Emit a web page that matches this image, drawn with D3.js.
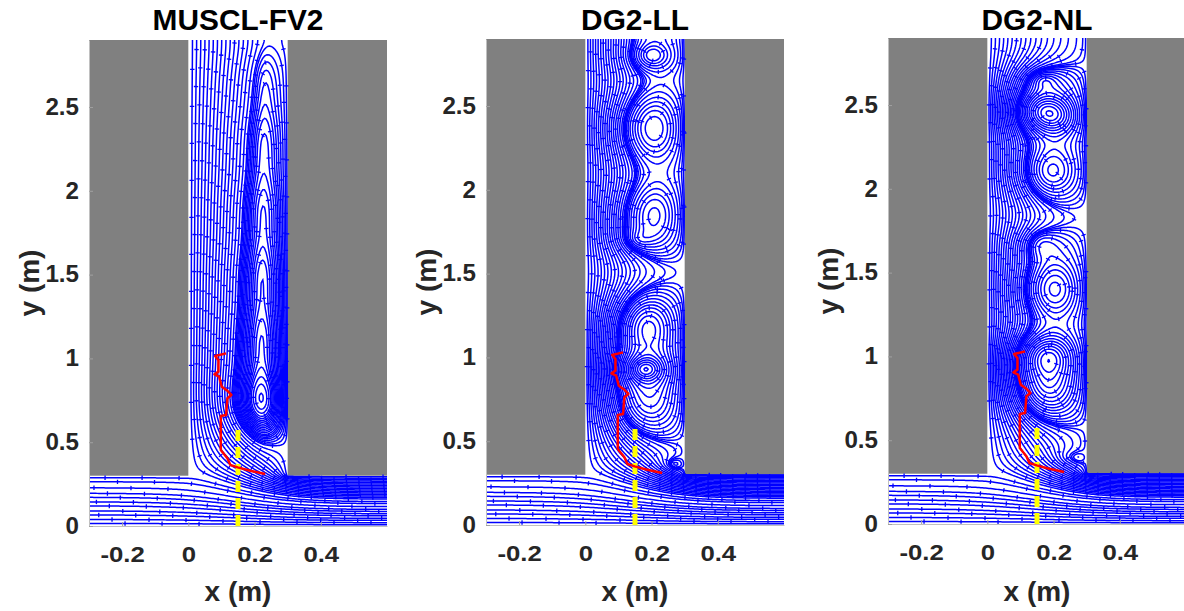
<!DOCTYPE html>
<html>
<head>
<meta charset="utf-8">
<script src="https://cdn.jsdelivr.net/npm/d3@7"></script>
<style>
  body { margin: 0; background: #fff; }
  text { font-family: "Liberation Sans", Arial, sans-serif; font-weight: bold; }
</style>
</head>
<body>
<svg id="fig" width="1184" height="611"></svg>
<script>
// ---- data ----
const panelTitles = ['MUSCL-FV2', 'DG2-LL', 'DG2-NL']
const xTicks = [-0.2, 0, 0.2, 0.4]
const yTicks = [0, 0.5, 1, 1.5, 2, 2.5]
const xDomain = [-0.3, 0.6]
const yDomain = [0, 2.9]

// measured front (red) and probe section (yellow)
const redX = [0.114, 0.081, 0.091, 0.091, 0.079, 0.093, 0.101, 0.118, 0.130, 0.118, 0.114, 0.098, 0.098, 0.118, 0.127, 0.149, 0.187, 0.232]
const redY = [1.030, 1.014, 0.990, 0.921, 0.905, 0.891, 0.831, 0.807, 0.782, 0.762, 0.662, 0.656, 0.453, 0.404, 0.364, 0.350, 0.330, 0.310]
const probeX = [0.15, 0.15]
const probeY = [0, 0.6]

// recirculation cells seen in each panel: centre (m), strength, core radii (m)
const fv2VortX = [0.222, 0.222, 0.223, 0.224, 0.225, 0.226]
const fv2VortY = [0.72, 1.10, 1.50, 1.90, 2.30, 2.70]
const fv2VortG = [6.6, 5.9, 5.1, 4.4, 3.7, 3.0]
const fv2VortRx = [0.032, 0.03, 0.028, 0.026, 0.024, 0.022]
const fv2VortRy = [0.20, 0.25, 0.25, 0.25, 0.25, 0.25]

const llVortX = [0.20, 0.205, 0.205, 0.16, 0.185, 0.18, 0.185, 0.268]
const llVortY = [2.80, 2.37, 1.86, 1.70, 1.19, 0.93, 0.72, 0.36]
const llVortG = [2.5, 7.5, 6.0, 1.0, 6.5, 3.0, 6.0, 0.9]
const llVortRx = [0.03, 0.06, 0.055, 0.02, 0.05, 0.03, 0.07, 0.015]
const llVortRy = [0.06, 0.20, 0.18, 0.04, 0.17, 0.05, 0.18, 0.025]

const nlVortX = [0.17, 0.16, 0.205, 0.19, 0.16, 0.20, 0.18, 0.18, 0.27, 0.24]
const nlVortY = [2.65, 2.47, 2.43, 2.10, 1.67, 1.40, 1.01, 0.80, 0.39, 0.40]
const nlVortG = [1.6, 3.0, 3.0, 5.0, 1.8, 6.0, 4.5, 6.0, 0.5, 0.35]
const nlVortRx = [0.025, 0.04, 0.04, 0.05, 0.03, 0.05, 0.05, 0.06, 0.015, 0.015]
const nlVortRy = [0.04, 0.09, 0.09, 0.14, 0.07, 0.16, 0.10, 0.16, 0.03, 0.03]

// streamline levels (stream function; channel wall = 1, cavity right wall = 2)
const channelLevels = [0.05, 0.13, 0.22, 0.30, 0.40, 0.48, 0.57, 0.65, 0.76, 0.88, 0.96]
const fv2CavityLevels = [1.06, 1.12, 1.18, 1.24, 1.30, 1.36, 1.42, 1.48, 1.54, 1.60, 1.66, 1.72, 1.78, 1.84, 1.90, 1.96]
const fv2VortexLevels = [2.01, 2.03, 2.055, 2.08, 2.105, 2.13, 2.155, 2.18, 2.21, 2.24, 2.27, 2.30, 2.33, 2.36, 2.39, 2.42, 2.45, 2.48, 2.52, 2.56, 2.60, 2.65, 2.70]
const dgCavityLevels = [1.055, 1.11, 1.165, 1.22, 1.275, 1.33, 1.385, 1.44, 1.495, 1.55, 1.605, 1.66, 1.715, 1.77, 1.825, 1.88, 1.935, 1.975, 1.993]
const dgVortexLevels = [2.01, 2.03, 2.06, 2.10, 2.15, 2.21, 2.27, 2.33, 2.39, 2.46, 2.53, 2.60, 2.67, 2.74, 2.81, 2.88, 2.95, 3.02, 3.09, 3.16, 3.24, 3.32, 3.41, 3.50]

const panels = [
  { title: panelTitles[0], left: 89, top: 40, vx: fv2VortX, vy: fv2VortY, vg: fv2VortG, vrx: fv2VortRx, vry: fv2VortRy, levels: fv2CavityLevels.concat(fv2VortexLevels) },
  { title: panelTitles[1], left: 486, top: 39, vx: llVortX, vy: llVortY, vg: llVortG, vrx: llVortRx, vry: llVortRy, levels: dgCavityLevels.concat(dgVortexLevels) },
  { title: panelTitles[2], left: 888, top: 38, vx: nlVortX, vy: nlVortY, vg: nlVortG, vrx: nlVortRx, vry: nlVortRy, levels: dgCavityLevels.concat(dgVortexLevels) }
]
const panelW = 298
const panelH = 486

// ---- stream function on a grid: Laplace flow through the T plus the cells ----
const hx = 0.005, hy = 0.01
const nx = Math.round((xDomain[1] - xDomain[0]) / hx) + 1
const ny = Math.round((yDomain[1] - yDomain[0]) / hy) + 1
const jWall = Math.round(0.3 / hy)
const iLeft = Math.round((0 - xDomain[0]) / hx)
const iRight = Math.round((0.3 - xDomain[0]) / hx)

function solvePsi (p) {
  const N = nx * ny
  const psi = new Float64Array(N)
  const type = new Uint8Array(N) // 0 fixed, 1 interior, 2 outlet, 3 cavity top
  const f = new Float64Array(N)
  const strength = p.vg.map((g, k) => g / (Math.PI * p.vrx[k] * p.vry[k]))
  for (let j = 0; j < ny; j++) {
    for (let i = 0; i < nx; i++) {
      const k = j * nx + i
      const x = xDomain[0] + i * hx
      const y = j * hy
      if (j === 0) { psi[k] = 0; type[k] = 0 } else if (j < jWall) {
        const s = j / jWall
        if (i === 0) { psi[k] = s; type[k] = 0 } else {
          type[k] = i === nx - 1 ? 2 : 1
          psi[k] = s * (1 + Math.min(1, Math.max(0, (i - iLeft) / (iRight - iLeft))))
        }
      } else {
        if (i <= iLeft) { psi[k] = 1; type[k] = 0 } else if (i >= iRight) { psi[k] = 2; type[k] = 0 } else {
          type[k] = j === ny - 1 ? 3 : 1
          psi[k] = 1 + (i - iLeft) / (iRight - iLeft)
        }
      }
      if (type[k]) {
        let w = 0
        for (let v = 0; v < strength.length; v++) {
          const dx = (x - p.vx[v]) / p.vrx[v], dy = (y - p.vy[v]) / p.vry[v]
          w += strength[v] * Math.exp(-dx * dx - dy * dy)
        }
        f[k] = w
      }
    }
  }
  const ax = 1 / (hx * hx), ay = 1 / (hy * hy), den = 2 * ax + 2 * ay
  const om = 1.9
  for (let it = 0; it < 1000; it++) {
    for (let j = 1; j < ny; j++) {
      const row = j * nx
      for (let i = 1; i < nx; i++) {
        const k = row + i
        const t = type[k]
        if (t === 0) continue
        let nv
        if (t === 1) nv = (ax * (psi[k - 1] + psi[k + 1]) + ay * (psi[k - nx] + psi[k + nx]) + f[k]) / den
        else if (t === 2) nv = (ax * 2 * psi[k - 1] + ay * (psi[k - nx] + psi[k + nx]) + f[k]) / den
        else nv = (ax * (psi[k - 1] + psi[k + 1]) + ay * 2 * psi[k - nx] + f[k]) / den
        psi[k] += om * (nv - psi[k])
      }
    }
  }
  // pad two cells so contour rings close outside the plot
  const NX = nx + 4, NY = ny + 4
  const out = new Float64Array(NX * NY).fill(-1e6)
  for (let j = 1; j < NY - 1; j++) {
    for (let i = 1; i < NX - 1; i++) {
      const si = Math.min(nx - 1, Math.max(0, i - 2))
      const sj = Math.min(ny - 1, Math.max(0, j - 2))
      out[j * NX + i] = psi[sj * nx + si]
    }
  }
  return { values: out, NX, NY }
}

// ---- drawing ----
const svg = d3.select('#fig')

function styledText (sel, sx) {
  // reference text is slightly wider than the font's natural width
  return sel.attr('transform', function () {
    const t = d3.select(this)
    const x0 = +t.attr('x') || 0, y0 = +t.attr('y') || 0
    return `translate(${x0},${y0}) scale(${sx},1) translate(${-x0},${-y0})`
  })
}

panels.forEach((p, n) => {
  const x = d3.scaleLinear().domain(xDomain).range([p.left, p.left + panelW])
  const y = d3.scaleLinear().domain(yDomain).range([p.top + panelH, p.top])
  const g = svg.append('g')

  g.append('clipPath').attr('id', 'clip' + n)
    .append('rect').attr('x', p.left).attr('y', p.top).attr('width', panelW).attr('height', panelH)

  // solid walls of the T junction
  g.append('rect').attr('x', x(xDomain[0])).attr('y', y(yDomain[1]))
    .attr('width', x(0) - x(xDomain[0])).attr('height', y(0.3) - y(yDomain[1])).attr('fill', '#808080')
  g.append('rect').attr('x', x(0.3)).attr('y', y(yDomain[1]))
    .attr('width', x(xDomain[1]) - x(0.3)).attr('height', y(0.3) - y(yDomain[1])).attr('fill', '#808080')

  const field = solvePsi(p)
  const levels = channelLevels.concat(p.levels)
  const contours = d3.contours().size([field.NX, field.NY]).thresholds(levels)(field.values)
  const proj = d3.geoTransform({
    point: function (gx, gy) {
      this.stream.point(x(xDomain[0] + (gx - 2.5) * hx), y((gy - 2.5) * hy))
    }
  })
  const path = d3.geoPath(proj)
  const lines = g.append('g').attr('clip-path', `url(#clip${n})`)
  const paths = lines.selectAll('path').data(contours).join('path')
    .attr('d', path).attr('fill', 'none').attr('stroke', '#0000ff').attr('stroke-width', 1.5)

  // small arrow marks along the streamlines
  const marks = []
  paths.each(function (d, idx) {
    const len = this.getTotalLength()
    for (let s = 10 + (idx * 11) % 37; s < len - 2; s += 37) {
      const a = this.getPointAtLength(s), b = this.getPointAtLength(s + 1.5)
      const dx = x.invert(a.x), dy = y.invert(a.y)
      if (a.x < p.left + 2 || a.x > p.left + panelW - 2 || a.y < p.top + 2 || a.y > p.top + panelH - 2) continue
      if (dy > 0.31 && (dx < 0 || dx > 0.3)) continue
      const tx = b.x - a.x, ty = b.y - a.y, l = Math.hypot(tx, ty) || 1
      marks.push([a.x - 2.2 * ty / l, a.y + 2.2 * tx / l, a.x + 2.2 * ty / l, a.y - 2.2 * tx / l])
    }
  })
  lines.append('g').selectAll('line').data(marks).join('line')
    .attr('x1', d => d[0]).attr('y1', d => d[1]).attr('x2', d => d[2]).attr('y2', d => d[3])
    .attr('stroke', '#0000ff').attr('stroke-width', 1.3)

  // probe section and measured front
  const line = d3.line().x(d => x(d[0])).y(d => y(d[1]))
  g.append('path').attr('d', line(probeX.map((v, i) => [v, probeY[i]])))
    .attr('stroke', '#ffff00').attr('stroke-width', 5).attr('stroke-dasharray', '11,6').attr('fill', 'none')
  g.append('path').attr('d', line(redX.map((v, i) => [v, redY[i]])))
    .attr('stroke', '#ff0000').attr('stroke-width', 2.5).attr('fill', 'none').attr('stroke-linejoin', 'round')

  // axes
  const xa = g.append('g').attr('transform', `translate(0,${p.top + panelH})`)
    .call(d3.axisBottom(x).tickValues(xTicks).tickSizeInner(-4).tickSizeOuter(0).tickPadding(20).tickFormat(d => String(d)))
  const ya = g.append('g').attr('transform', `translate(${p.left},0)`)
    .call(d3.axisLeft(y).tickValues(yTicks).tickSizeInner(-4).tickSizeOuter(0).tickPadding(10).tickFormat(d => String(d)))
  for (const a of [xa, ya]) {
    a.select('.domain').attr('stroke', '#c0c0c0')
    a.selectAll('.tick line').attr('stroke', '#a0a0a0')
    a.selectAll('.tick text').attr('fill', '#262626').attr('font-size', 23)
  }
  xa.selectAll('.tick text').call(styledText, 1.12)
  ya.selectAll('.tick text').call(styledText, 1.05)

  g.append('text').attr('x', p.left + panelW / 2).attr('y', 30).attr('text-anchor', 'middle')
    .attr('font-size', 29).attr('fill', '#000').text(p.title).call(styledText, 1.03)
  g.append('text').attr('x', p.left + panelW / 2).attr('y', 601).attr('text-anchor', 'middle')
    .attr('font-size', 28).attr('fill', '#262626').text('x (m)')
  g.append('text').attr('transform', `translate(${p.left - 50},${p.top + panelH / 2}) rotate(-90)`)
    .attr('text-anchor', 'middle').attr('font-size', 28).attr('fill', '#262626').text('y (m)')
})
</script>
</body>
</html>
